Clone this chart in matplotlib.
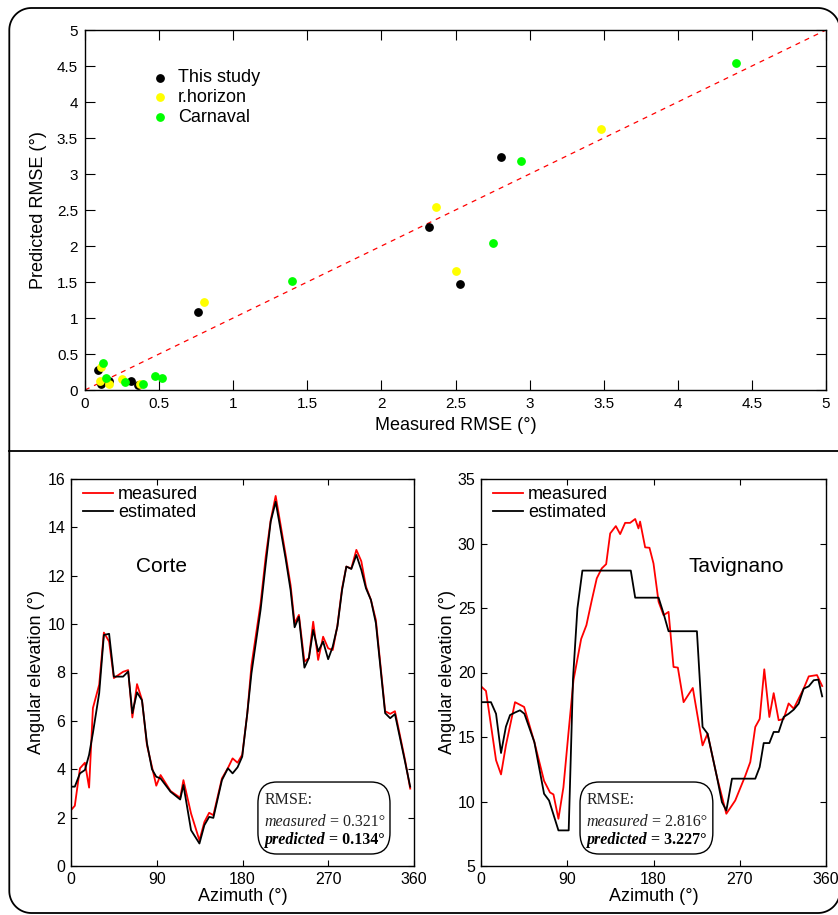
import matplotlib
matplotlib.use("Agg")
import numpy as np
import matplotlib.pyplot as plt
from matplotlib.patches import FancyBboxPatch
from matplotlib.lines import Line2D

plt.rcParams['font.family'] = ['Liberation Sans', 'DejaVu Sans']

# ---------------- data: scatter (RMSE) ----------------
this_meas = [2.81, 2.32, 2.53, 0.76, 0.09, 0.11, 0.16, 0.31, 0.36]
this_pred = [3.23, 2.27, 1.47, 1.08, 0.28, 0.08, 0.12, 0.13, 0.07]
rh_meas = [3.48, 2.37, 2.50, 0.80, 0.11, 0.10, 0.16, 0.25, 0.37]
rh_pred = [3.62, 2.54, 1.65, 1.22, 0.32, 0.13, 0.08, 0.15, 0.08]
car_meas = [4.39, 2.94, 2.75, 1.40, 0.12, 0.14, 0.27, 0.39, 0.47, 0.52]
car_pred = [4.54, 3.18, 2.04, 1.51, 0.38, 0.17, 0.11, 0.09, 0.19, 0.16]
rmse_ticks = [0, 0.5, 1, 1.5, 2, 2.5, 3, 3.5, 4, 4.5, 5]
rmse_ticklabels = ['0', '0.5', '1', '1.5', '2', '2.5', '3', '3.5', '4', '4.5', '5']

# ---------------- data: Corte horizon ----------------
corte_az = [0, 4, 9.4, 14.6, 19, 23, 29.6, 34.5, 40, 45, 54.7, 60, 64.4, 69.3, 74.5,
            79.7, 85, 89.5, 94, 104.5, 114.6, 118, 126, 134.8, 140, 145, 149.4, 158.4,
            164.7, 169.6, 174.8, 179.7, 185, 189.4, 199, 204.4, 209.6, 214.8, 220,
            225.3, 230.5, 234.7, 239.2, 245, 249.7, 254.2, 259.4, 264.6, 269.9, 274.7,
            279.6, 284.5, 289, 294.2, 299.5, 304.7, 309.6, 314.8, 320, 329.7, 335, 340,
            350.6, 356]
corte_measured = [2.31, 2.49, 4.04, 4.27, 3.24, 6.53, 7.5, 9.65, 9.28, 7.77, 8.03, 8.1,
                  6.14, 7.52, 6.87, 5.0, 4.1, 3.32, 3.76, 3.1, 2.82, 3.55, 2.17, 1.06,
                  1.82, 2.2, 2.1, 3.62, 4.05, 4.45, 4.27, 4.6, 6.3, 8.3, 10.86, 12.8,
                  14.3, 15.3, 14.1, 12.86, 11.6, 10.04, 10.38, 8.45, 8.6, 10.1, 8.52,
                  9.48, 9.0, 8.93, 9.94, 11.48, 12.38, 12.3, 13.07, 12.6, 11.55, 11.0,
                  10.17, 6.4, 6.29, 6.4, 4.38, 3.2]
corte_estimated = [3.28, 3.28, 3.83, 3.97, 4.6, 5.5, 7.15, 9.55, 9.6, 7.83, 7.83, 8.04,
                   6.32, 7.18, 6.85, 5.08, 4.0, 3.69, 3.62, 3.07, 2.75, 3.35, 1.48, 0.93,
                   1.69, 2.03, 1.99, 3.55, 4.04, 3.83, 4.08, 4.52, 6.3, 7.97, 10.6, 12.5,
                   14.24, 15.06, 13.9, 12.7, 11.4, 9.87, 10.3, 8.2, 8.6, 9.76, 8.87,
                   9.28, 8.55, 9.07, 9.9, 11.41, 12.38, 12.28, 12.86, 12.24, 11.48, 11.0,
                   10.04, 6.32, 6.11, 6.28, 4.31, 3.28]

# ---------------- data: Tavignano horizon ----------------
tav_meas_az = [0, 5.2, 15.7, 20.9, 26, 35.5, 45, 55.7, 65.8, 72, 75.6, 80.8, 86, 91.2,
               96.5, 104.5, 110, 115.6, 120.8, 126, 130.6, 134.8, 140.7, 145.2, 150.4,
               155.6, 160.9, 164.3, 166, 171.3, 175.8, 180, 185.3, 190.5, 195.7, 200.9,
               205.4, 211.4, 221, 231.2, 236.4, 246.2, 256, 265.3, 275.8, 281, 286.2,
               290.8, 295.6, 300.9, 305.4, 310.6, 315.8, 321, 326.3, 331.5, 336.7, 342,
               350.6, 356]
tav_measured = [18.93, 18.57, 13.2, 12.1, 14.35, 17.7, 17.33, 14.6, 11.6, 10.7, 10.55,
                8.66, 11.1, 15.26, 19.4, 22.6, 23.67, 25.6, 27.3, 28.07, 28.4, 30.78,
                31.35, 30.73, 31.6, 31.6, 31.9, 31.17, 31.7, 29.7, 29.67, 28.45, 25.48,
                24.44, 24.7, 20.43, 20.38, 17.7, 18.8, 14.35, 15.26, 11.9, 9.05, 10.08,
                12.0, 13.06, 15.78, 16.4, 20.25, 16.55, 18.4, 16.3, 16.4, 17.6, 17.2,
                17.98, 18.75, 19.7, 19.8, 18.95]
tav_est_az = [0, 10.4, 15.7, 20.9, 26, 30.3, 35.5, 40.7, 45.3, 55.7, 65.8, 71, 80.8,
              91.5, 96, 100.6, 105.8, 156.3, 160.9, 185.3, 190.5, 195.7, 225.3, 231.2,
              236.4, 246.2, 251.4, 256, 261.9, 286.2, 290.8, 295, 300.9, 305.4, 310.6,
              315.8, 321, 326.3, 331.5, 336.7, 342, 347.2, 352, 356]
tav_estimated = [17.7, 17.7, 16.8, 13.76, 15.8, 16.7, 16.9, 17.07, 16.8, 14.6, 10.6,
                 10.08, 7.76, 7.76, 19.5, 24.96, 27.9, 27.9, 25.8, 25.8, 24.57, 23.2,
                 23.2, 15.78, 15.26, 11.9, 9.95, 9.3, 11.77, 11.77, 12.67, 14.53, 14.53,
                 15.39, 15.39, 16.55, 16.8, 17.12, 17.59, 18.75, 18.93, 19.4, 19.45,
                 18.15]

az_ticks = [0, 90, 180, 270, 360]

# ---------------- figure ----------------
W, H = 838, 915
fig = plt.figure(figsize=(W / 100, H / 100), dpi=100)

def fx(px):
    return px / W

def fy(py):
    return 1 - py / H

# outer rounded frame (inches) with divider
x0, x1, y0, y1, r = 0.093, 8.40, 0.02, 9.07, 0.22
def arc(cx, cy, a0, a1):
    t = np.linspace(np.radians(a0), np.radians(a1), 20)
    return list(cx + r * np.cos(t)), list(cy + r * np.sin(t))
xs, ys = [], []
for (cx, cy, a0, a1) in [(x1 - r, y1 - r, 0, 90), (x0 + r, y1 - r, 90, 180),
                         (x0 + r, y0 + r, 180, 270), (x1 - r, y0 + r, 270, 360)]:
    ax_, ay_ = arc(cx, cy, a0, a1)
    xs += ax_
    ys += ay_
xs.append(xs[0])
ys.append(ys[0])
fig.add_artist(Line2D(xs, ys, transform=fig.dpi_scale_trans, color='black',
                      linewidth=1.3, solid_joinstyle='round'))
fig.add_artist(Line2D([x0, 8.5], [(H - 451) / 100, (H - 451) / 100],
                      transform=fig.dpi_scale_trans, color='black', linewidth=1.3))

# ---------- top: scatter ----------
ax = fig.add_axes([fx(85), fy(390), fx(826) - fx(85), fy(30) - fy(390)])
ax.plot([0, 5], [0, 5], linestyle=(0, (4, 4)), color='red', linewidth=0.9, zorder=1)
ax.scatter(this_meas, this_pred, s=28, color='black', label='This study', zorder=3)
ax.scatter(rh_meas, rh_pred, s=28, color='#ffff00', label='r.horizon', zorder=3)
ax.scatter(car_meas, car_pred, s=28, color='#00ff00', label='Carnaval', zorder=3)
ax.set_xlim(0, 5)
ax.set_ylim(0, 5)
ax.set_xticks(rmse_ticks)
ax.set_xticklabels(rmse_ticklabels)
ax.set_yticks(rmse_ticks)
ax.set_yticklabels(rmse_ticklabels)
ax.tick_params(direction='in', length=7, width=0.8, top=True, right=True,
               labelsize=11, pad=5)
ax.set_xlabel('Measured RMSE (°)', fontsize=13, labelpad=4)
ax.set_ylabel('Predicted RMSE (°)', fontsize=13, labelpad=7)
leg = ax.legend(loc='upper left', bbox_to_anchor=(0.0746, 0.911), frameon=False,
                fontsize=13, handlelength=1.4, handletextpad=0.3, labelspacing=0.15,
                borderaxespad=0, scatterpoints=1)
for sp in ax.spines.values():
    sp.set_linewidth(1.0)

# ---------- bottom panels ----------
def horizon_panel(left_px, right_px, az_m, meas, az_e, est, ylim, yticks, name,
                  name_xy, box_x0, rmse_m, rmse_p):
    a = fig.add_axes([fx(left_px), fy(866), fx(right_px) - fx(left_px), fy(479) - fy(866)])
    a.plot(az_m, meas, color='red', linewidth=1.3, label='measured')
    a.plot(az_e, est, color='black', linewidth=1.3, label='estimated')
    a.set_xlim(0, 360)
    a.set_ylim(*ylim)
    a.set_xticks(az_ticks)
    a.set_yticks(yticks)
    a.tick_params(direction='in', length=4.5, width=0.8, top=True, right=True,
                  labelsize=11.5, pad=4)
    a.set_xlabel('Azimuth (°)', fontsize=13, labelpad=1)
    a.set_ylabel('Angular elevation (°)', fontsize=13, labelpad=1.5)
    a.legend(loc='upper left', bbox_to_anchor=(12 / (right_px - left_px), 0.981),
             frameon=False, fontsize=13, handlelength=1.67,
             handletextpad=0.28, labelspacing=0.06, borderaxespad=0, borderpad=0)
    a.text(name_xy[0], name_xy[1], name, transform=a.transAxes, fontsize=15,
           ha='left', va='center')
    # RMSE box
    box = FancyBboxPatch((box_x0, 0.031), 0.385, 0.186,
                         boxstyle="round,pad=0,rounding_size=0.055",
                         transform=a.transAxes, fill=False, edgecolor='black',
                         linewidth=1.0, zorder=5)
    a.add_patch(box)
    serif = ['Liberation Serif', 'DejaVu Serif']
    tx = box_x0 + 0.018
    fs = 11.5
    a.text(tx, 0.160, 'RMSE:', transform=a.transAxes, family=serif, fontsize=fs,
           color='#222222', zorder=6)
    t1 = a.text(tx, 0.103, 'measured', transform=a.transAxes, family=serif,
                fontsize=fs, style='italic', color='#222222', zorder=6)
    a.annotate(' = %s°' % rmse_m, xy=(1, 0), xycoords=t1, va='bottom', ha='left',
               family=serif, fontsize=fs, color='#222222', zorder=6)
    t2 = a.text(tx, 0.058, 'predicted', transform=a.transAxes, family=serif,
                fontsize=fs, style='italic', weight='bold', zorder=6)
    a.annotate(' = %s°' % rmse_p, xy=(1, 0), xycoords=t2, va='bottom', ha='left',
               family=serif, fontsize=fs, weight='bold', zorder=6)
    for sp in a.spines.values():
        sp.set_linewidth(1.0)
    return a

horizon_panel(71, 414, corte_az, corte_measured, corte_az, corte_estimated,
              (0, 16), [0, 2, 4, 6, 8, 10, 12, 14, 16], 'Corte', (0.19, 0.775),
              0.545, '0.321', '0.134')
horizon_panel(481, 826, tav_meas_az, tav_measured, tav_est_az, tav_estimated,
              (5, 35), [5, 10, 15, 20, 25, 30, 35], 'Tavignano', (0.6, 0.775),
              0.287, '2.816', '3.227')

fig.savefig('out.png', dpi=100)
